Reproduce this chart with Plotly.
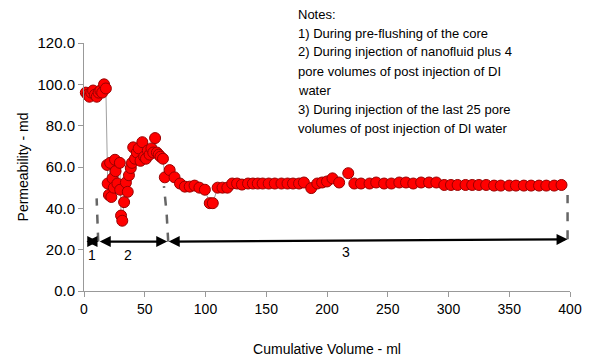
import plotly.graph_objects as go

# ---- data (cumulative volume, ml ; permeability, md) ----
vol_pre = [1.5, 3, 4.5, 6, 7.5, 9, 10.5, 12, 13.5, 15, 16.5, 18]
perm_pre = [96, 95, 94, 96, 97, 95, 94, 96, 97, 96, 100, 98]

vol_nano = [19, 19.5, 20.5, 21.5, 22.5, 23.5, 24.5, 25.5, 26, 27.5, 29.5, 29.8, 30.5, 31.5,
            33, 34.5, 36, 37, 38.5, 39.5, 40.5, 42, 43.5, 45, 46.5, 48, 49.5, 51, 52.5,
            54, 55.5, 57, 58.5, 60, 61.5, 63, 65]
perm_nano = [61, 52, 46.5, 62, 45.5, 54.5, 50, 63.5, 58, 52, 62, 49, 36.5, 34,
             43, 52.5, 48, 56, 59.5, 62, 69.5, 64, 67, 69, 63, 72, 65, 64, 68,
             66, 69, 67, 74, 67, 66, 65, 64]

vol_post = [66.5, 70.5, 74.5, 79, 83, 87, 91, 95, 99.5, 103.5, 106, 110, 114, 118, 122, 126,
            130, 135, 139, 143, 147, 152, 157, 162.5, 167.5, 172, 177, 181, 187, 192,
            196, 200, 204.5, 210, 217.5, 222.5, 228, 235, 240.5, 247, 253, 259.5, 265,
            271, 277.5, 284, 290, 296.5, 302, 307.5, 314, 319.5, 325, 331, 337.5, 343,
            350, 355.5, 362, 368, 374.5, 380.5, 387, 393]
perm_post = [55, 58.5, 55, 52, 50.5, 50.5, 51, 50, 49, 42.5, 42.5, 50, 50, 50, 52, 52,
             51.5, 52, 52, 52, 52, 52, 52, 52, 52, 52, 52, 52.5, 49.8, 52,
             52.5, 53, 54.5, 52.5, 57, 52, 52, 52, 52.5, 52, 52, 52.5, 52.5,
             52, 52.5, 52.5, 52.5, 51.3, 51.3, 51.3, 51.3, 51.3, 51.3, 51.3, 51, 51,
             51, 51, 51, 51, 51, 51, 51, 51.3]

volume = vol_pre + vol_nano + vol_post
permeability = perm_pre + perm_nano + perm_post

x_ticks = [0, 50, 100, 150, 200, 250, 300, 350, 400]
y_ticks = [0, 20, 40, 60, 80, 100, 120]

# stage boundaries (x) and stage-arrow levels
stage_x = [0.8, 11.7, 68.5, 398]
stage_y = [23.9, 23.9, 23.9, 25.0]
stage_labels = ["1", "2", "3"]
stage_label_pos = [(6.5, 17.4), (36, 17.4), (216, 18.9)]

# dashed separator lines
sep1_x, sep1_y = [11.7, 10.4], [23.9, 44.8]
sep2_x, sep2_y = [69.3, 68.0, 65.8], [23.9, 37.6, 50.8]
sep3_x, sep3_y = [398, 398], [25.0, 46.4]

notes = [
    "Notes:",
    "1) During pre-flushing of the core",
    "2) During injection of nanofluid plus 4",
    "pore volumes of post injection of DI",
    "water",
    "3) During injection of the last 25 pore",
    "volumes of post injection of DI water",
]

FONT = "Liberation Sans, Arial, sans-serif"

fig = go.Figure()

for sx, sy in [(sep1_x, sep1_y), (sep2_x, sep2_y), (sep3_x, sep3_y)]:
    fig.add_trace(go.Scatter(x=sx, y=sy, mode="lines",
                             line=dict(color="#666666", width=2.5, dash="dash"),
                             hoverinfo="skip", showlegend=False))

fig.add_trace(go.Scatter(
    x=volume, y=permeability, mode="lines+markers",
    line=dict(color="#a0a0a0", width=1),
    marker=dict(size=11, color="#ff0000", line=dict(color="#990000", width=1)),
    showlegend=False, cliponaxis=False))

annotations = []
# stage arrows
for i in range(3):
    annotations.append(dict(
        x=stage_x[i + 1], y=stage_y[i + 1], ax=stage_x[i], ay=stage_y[i],
        xref="x", yref="y", axref="x", ayref="y", text="",
        showarrow=True, arrowhead=2, startarrowhead=2, arrowside="end+start",
        arrowsize=1, startarrowsize=1, arrowwidth=2.2, arrowcolor="#000000",
        standoff=0, startstandoff=0))
for lab, (lx, ly) in zip(stage_labels, stage_label_pos):
    annotations.append(dict(x=lx, y=ly, xref="x", yref="y", text=lab,
                            showarrow=False, font=dict(size=14, color="#000", family=FONT)))

# notes block (paper coordinates: plot area is 248 px tall, top at y=43 px)
plot_h = 248.0
for i, line in enumerate(notes):
    ypx = 14 + i * 19.0
    annotations.append(dict(x=(296 - 84) / 486.0, y=(291 - ypx) / plot_h,
                            xref="paper", yref="paper",
                            text=line, showarrow=False, xanchor="left", yanchor="middle",
                            font=dict(size=13, color="#000", family=FONT)))

fig.update_layout(
    width=600, height=358,
    margin=dict(l=84, r=30, t=43, b=67),
    paper_bgcolor="white", plot_bgcolor="white",
    font=dict(family=FONT, color="#000"),
    annotations=annotations,
    xaxis=dict(range=[0, 400], tickvals=x_ticks, ticktext=[str(v) for v in x_ticks],
               automargin=False,
               showgrid=False, zeroline=False, showline=True, linecolor="#999999",
               linewidth=1, ticks="outside", ticklen=5, tickcolor="#999999",
               tickfont=dict(size=14, family=FONT),
               title=dict(text="Cumulative Volume - ml", font=dict(size=14, family=FONT),
                          standoff=28)),
    yaxis=dict(range=[0, 120], tickvals=y_ticks, ticktext=[f"{v:.1f}" for v in y_ticks],
               automargin=False,
               showgrid=False, zeroline=False, showline=True, linecolor="#999999",
               linewidth=1, ticks="outside", ticklen=5, tickcolor="#999999",
               tickfont=dict(size=15, family=FONT),
               title=dict(text="Permeability - md", font=dict(size=14, family=FONT),
                          standoff=5)),
)

fig.write_html("out.html")
